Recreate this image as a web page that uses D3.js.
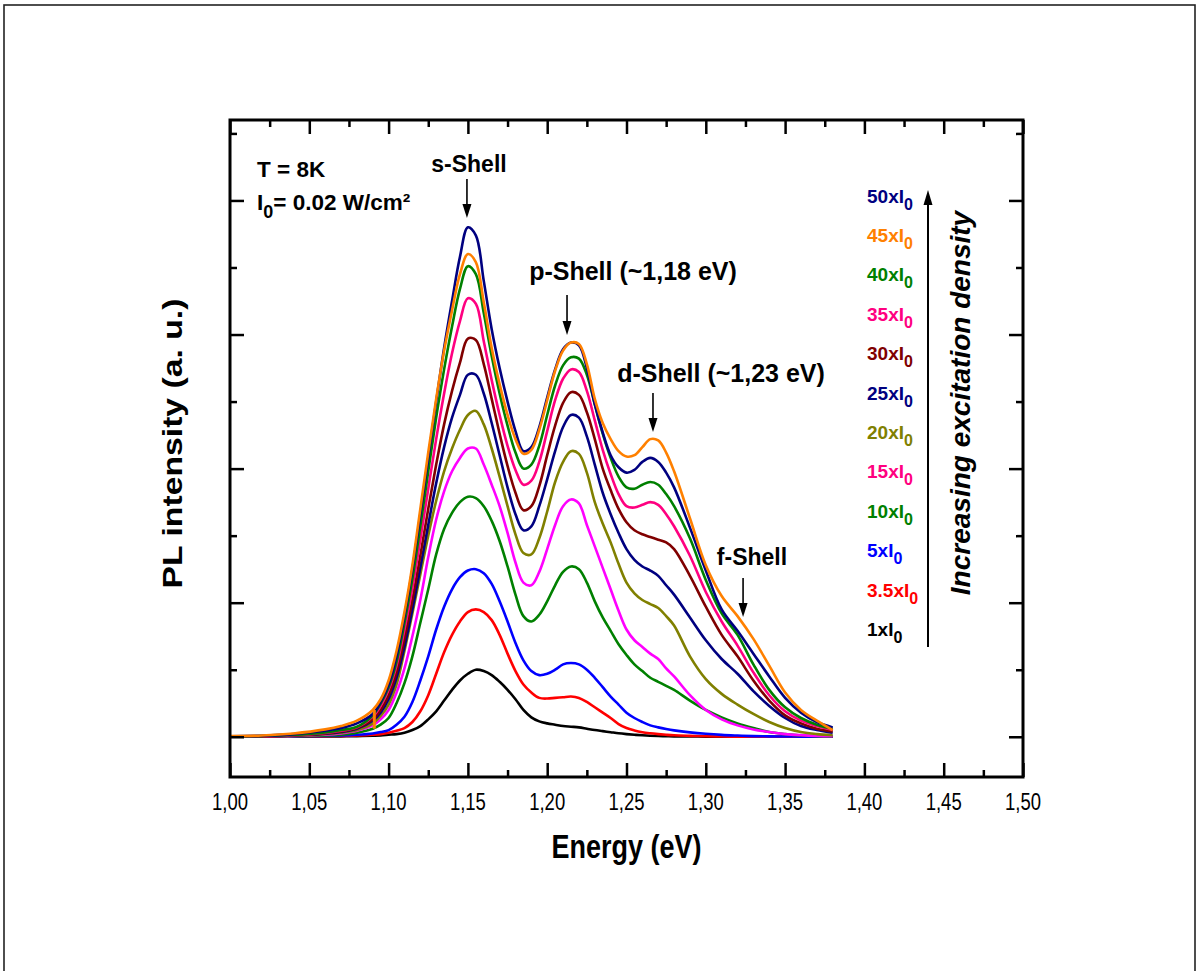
<!DOCTYPE html>
<html><head><meta charset="utf-8">
<script src="https://cdn.jsdelivr.net/npm/d3@7/dist/d3.min.js"></script>
<style>body{margin:0;background:#fff}svg{display:block}</style>
</head><body>
<svg id="c" width="1199" height="971"></svg>
<script>
// ---------- DATA ----------
const energy = [1.00,1.02,1.04,1.06,1.07,1.08,1.09,1.095,1.10,1.105,1.11,1.115,1.12,1.125,1.13,1.135,1.14,1.145,1.15,1.155,1.16,1.165,1.17,1.175,1.18,1.185,1.19,1.195,1.20,1.205,1.21,1.215,1.22,1.225,1.23,1.235,1.24,1.245,1.25,1.255,1.26,1.265,1.27,1.275,1.28,1.29,1.30,1.31,1.32,1.33,1.34,1.35,1.36,1.37,1.38];

const pl_1x   = [0,0,0.001,0.002,0.003,0.005,0.008,0.01,0.015,0.02,0.03,0.05,0.08,0.13,0.19,0.27,0.35,0.42,0.47,0.50,0.49,0.46,0.41,0.35,0.28,0.20,0.145,0.115,0.10,0.09,0.08,0.075,0.07,0.06,0.05,0.042,0.034,0.026,0.02,0.015,0.011,0.008,0.006,0.004,0.003,0.002,0.001,0,0,0,0,0,0,0,0];
const pl_3_5x = [0,0,0.002,0.004,0.006,0.009,0.015,0.02,0.03,0.045,0.065,0.11,0.19,0.31,0.47,0.63,0.76,0.86,0.93,0.95,0.93,0.87,0.76,0.62,0.49,0.39,0.33,0.29,0.285,0.29,0.295,0.30,0.29,0.26,0.22,0.18,0.14,0.095,0.065,0.047,0.034,0.026,0.02,0.015,0.011,0.007,0.004,0.002,0.001,0,0,0,0,0,0];
const pl_5x   = [0,0.001,0.003,0.006,0.009,0.015,0.025,0.035,0.05,0.09,0.15,0.26,0.42,0.60,0.80,0.97,1.10,1.19,1.24,1.25,1.22,1.14,1.01,0.86,0.70,0.57,0.49,0.46,0.47,0.50,0.54,0.55,0.54,0.50,0.44,0.37,0.30,0.24,0.18,0.14,0.11,0.085,0.07,0.058,0.048,0.033,0.022,0.014,0.009,0.005,0.003,0.002,0.001,0,0];
const pl_10x  = [0,0.001,0.004,0.01,0.016,0.03,0.06,0.09,0.14,0.25,0.40,0.60,0.85,1.10,1.36,1.55,1.67,1.75,1.79,1.78,1.72,1.61,1.46,1.27,1.06,0.90,0.86,0.91,1.01,1.13,1.23,1.27,1.25,1.15,1.01,0.89,0.79,0.69,0.61,0.54,0.49,0.44,0.41,0.38,0.35,0.27,0.20,0.145,0.10,0.065,0.035,0.02,0.01,0.005,0.003];
const pl_15x  = [0,0.002,0.006,0.015,0.025,0.045,0.085,0.13,0.20,0.33,0.51,0.75,1.02,1.34,1.62,1.83,1.98,2.08,2.15,2.15,2.03,1.88,1.72,1.52,1.30,1.15,1.13,1.23,1.40,1.58,1.72,1.77,1.74,1.58,1.42,1.26,1.10,0.94,0.80,0.72,0.67,0.62,0.58,0.51,0.45,0.31,0.20,0.13,0.085,0.055,0.035,0.02,0.012,0.007,0.005];
const pl_20x  = [0,0.003,0.008,0.02,0.03,0.05,0.10,0.155,0.24,0.39,0.64,0.92,1.21,1.50,1.76,1.98,2.15,2.29,2.40,2.43,2.33,2.15,1.94,1.72,1.51,1.37,1.36,1.48,1.68,1.90,2.05,2.13,2.11,1.97,1.75,1.59,1.45,1.29,1.15,1.07,1.02,0.99,0.96,0.90,0.83,0.60,0.43,0.32,0.24,0.17,0.11,0.065,0.035,0.02,0.012];
const pl_25x  = [0,0.003,0.009,0.022,0.035,0.06,0.12,0.18,0.28,0.44,0.67,0.95,1.26,1.58,1.89,2.16,2.38,2.55,2.70,2.70,2.56,2.34,2.10,1.86,1.66,1.54,1.57,1.72,1.92,2.13,2.31,2.40,2.38,2.24,2.03,1.82,1.66,1.52,1.40,1.32,1.27,1.24,1.20,1.13,1.06,0.89,0.72,0.58,0.47,0.34,0.23,0.14,0.08,0.05,0.03];
const pl_30x  = [0,0.003,0.01,0.025,0.04,0.065,0.13,0.20,0.31,0.48,0.73,1.02,1.35,1.70,2.03,2.33,2.58,2.79,2.97,2.96,2.78,2.52,2.26,2.02,1.82,1.69,1.72,1.87,2.10,2.32,2.49,2.57,2.55,2.42,2.22,2.00,1.84,1.70,1.60,1.54,1.51,1.49,1.47,1.45,1.40,1.20,0.97,0.76,0.60,0.42,0.27,0.16,0.10,0.06,0.04];
const pl_35x  = [0,0.004,0.011,0.028,0.045,0.07,0.15,0.23,0.35,0.53,0.80,1.11,1.47,1.85,2.22,2.56,2.86,3.10,3.27,3.23,2.95,2.66,2.40,2.17,1.99,1.88,1.91,2.05,2.28,2.51,2.67,2.74,2.72,2.58,2.36,2.14,1.96,1.81,1.72,1.71,1.73,1.75,1.73,1.66,1.57,1.35,1.08,0.86,0.68,0.48,0.31,0.19,0.12,0.08,0.05];
const pl_40x  = [0.002,0.005,0.013,0.032,0.05,0.075,0.16,0.25,0.37,0.56,0.85,1.18,1.57,1.98,2.38,2.74,3.06,3.34,3.51,3.45,3.16,2.84,2.56,2.32,2.12,2.00,2.03,2.17,2.40,2.62,2.77,2.83,2.82,2.70,2.48,2.26,2.08,1.94,1.86,1.85,1.88,1.90,1.88,1.81,1.72,1.48,1.17,0.92,0.76,0.54,0.35,0.22,0.14,0.09,0.06];
const pl_45x  = [0.005,0.01,0.025,0.055,0.08,0.12,0.20,0.28,0.42,0.64,0.93,1.28,1.70,2.12,2.52,2.88,3.18,3.45,3.60,3.54,3.24,2.90,2.63,2.40,2.22,2.11,2.14,2.29,2.51,2.73,2.88,2.94,2.93,2.78,2.52,2.34,2.22,2.13,2.09,2.10,2.16,2.22,2.21,2.12,1.98,1.63,1.28,1.05,0.90,0.73,0.53,0.33,0.20,0.12,0.05];
const pl_50x  = [0.004,0.008,0.02,0.045,0.065,0.10,0.17,0.26,0.39,0.60,0.90,1.25,1.66,2.08,2.50,2.90,3.25,3.58,3.80,3.74,3.40,3.04,2.75,2.50,2.28,2.13,2.16,2.31,2.53,2.74,2.89,2.94,2.92,2.75,2.48,2.27,2.10,2.01,1.97,1.99,2.05,2.08,2.05,1.97,1.86,1.56,1.24,0.95,0.79,0.62,0.45,0.29,0.18,0.11,0.07];

// small measurement glitch visible on the 45x curve
const glitchEnergy = 1.091, glitchLow = 0.06, glitchHigh = 0.20;

const seriesFactor = ["1","3.5","5","10","15","20","25","30","35","40","45","50"];
const seriesValues = [pl_1x,pl_3_5x,pl_5x,pl_10x,pl_15x,pl_20x,pl_25x,pl_30x,pl_35x,pl_40x,pl_45x,pl_50x];
const lineColors   = ["#000000","#ff0000","#0000ff","#008000","#ff00ff","#808000","#000080","#800000","#ff0080","#008000","#ff8000","#000080"];
const legendColors = ["#000000","#ff0000","#0000ff","#008000","#ff0080","#808000","#000080","#800000","#ff0080","#008000","#ff8000","#000080"];

const xMajor = [1.00,1.05,1.10,1.15,1.20,1.25,1.30,1.35,1.40,1.45,1.50];
const xMinor = [1.025,1.075,1.125,1.175,1.225,1.275,1.325,1.375,1.425,1.475];
const yMajor = [0,1,2,3,4];
const yMinor = [0.5,1.5,2.5,3.5,4.5];

const shellLabels = ["s-Shell","p-Shell (~1,18 eV)","d-Shell (~1,23 eV)","f-Shell"];
const shellEnergy = [1.1494,1.2125,1.2667,1.3235];

// ---------- DRAWING ----------
const FONT = "'Liberation Sans', Arial, Helvetica, sans-serif";
const svg = d3.select("#c");
const M = {left:230, right:1023, top:120, bottom:777};
const x = d3.scaleLinear().domain([1.0,1.5]).range([M.left, M.right]);
const y = d3.scaleLinear().domain([-0.3,4.6]).range([M.bottom, M.top]);

svg.append("rect").attr("width",1199).attr("height",971).attr("fill","#fff");
svg.append("rect").attr("x",4).attr("y",5).attr("width",1191).attr("height",1000)
  .attr("fill","none").attr("stroke","#222").attr("stroke-width",1.6);

// curves
const order = [0,1,2,3,4,5,6,7,8,9,11,10];
const line = d3.line().x(d=>x(d[0])).y(d=>y(d[1])).curve(d3.curveCatmullRom.alpha(0.5));
const gCurves = svg.append("g");
order.forEach(i=>{
  const pts = energy.map((e,k)=>[e, seriesValues[i][k]]);
  gCurves.append("path").attr("d", line(pts)).attr("fill","none")
    .attr("stroke", lineColors[i]).attr("stroke-width",2.6).attr("stroke-linejoin","round");
});
gCurves.append("line").attr("x1",x(glitchEnergy)).attr("x2",x(glitchEnergy))
  .attr("y1",y(glitchLow)).attr("y2",y(glitchHigh)).attr("stroke","#ff8000").attr("stroke-width",3);

// axes with inward ticks
function styleAxis(g){ g.select(".domain").remove(); g.selectAll("line").attr("stroke","#000").attr("stroke-width",2.5); g.selectAll("text").remove(); }
svg.append("g").attr("transform",`translate(0,${M.bottom})`).call(d3.axisBottom(x).tickValues(xMajor).tickSize(-14).tickSizeOuter(0)).call(styleAxis);
svg.append("g").attr("transform",`translate(0,${M.bottom})`).call(d3.axisBottom(x).tickValues(xMinor).tickSize(-7).tickSizeOuter(0)).call(styleAxis);
svg.append("g").attr("transform",`translate(0,${M.top})`).call(d3.axisTop(x).tickValues(xMajor).tickSize(-14).tickSizeOuter(0)).call(styleAxis);
svg.append("g").attr("transform",`translate(0,${M.top})`).call(d3.axisTop(x).tickValues(xMinor).tickSize(-7).tickSizeOuter(0)).call(styleAxis);
svg.append("g").attr("transform",`translate(${M.left},0)`).call(d3.axisLeft(y).tickValues(yMajor).tickSize(-14).tickSizeOuter(0)).call(styleAxis);
svg.append("g").attr("transform",`translate(${M.left},0)`).call(d3.axisLeft(y).tickValues(yMinor).tickSize(-7).tickSizeOuter(0)).call(styleAxis);
svg.append("g").attr("transform",`translate(${M.right},0)`).call(d3.axisRight(y).tickValues(yMajor).tickSize(-14).tickSizeOuter(0)).call(styleAxis);
svg.append("g").attr("transform",`translate(${M.right},0)`).call(d3.axisRight(y).tickValues(yMinor).tickSize(-7).tickSizeOuter(0)).call(styleAxis);
svg.append("rect").attr("x",M.left).attr("y",M.top).attr("width",M.right-M.left).attr("height",M.bottom-M.top)
  .attr("fill","none").attr("stroke","#000").attr("stroke-width",3);

// tick labels (comma decimal)
const fmt = v => d3.format(".2f")(v).replace(".",",");
svg.append("g").selectAll("text").data(xMajor).join("text")
  .attr("transform", d=>`translate(${x(d)},810) scale(1,1.27)`)
  .attr("text-anchor","middle").attr("font-family",FONT).attr("font-size",18.5).attr("fill","#000").text(fmt);

// axis titles
svg.append("text").attr("transform",`translate(${(M.left+M.right)/2},858) scale(1,1.22)`)
  .attr("text-anchor","middle").attr("font-family",FONT).attr("font-weight","bold").attr("font-size",27).text("Energy (eV)");
svg.append("text").attr("transform",`translate(182,${(M.top+M.bottom)/2-5}) rotate(-90) scale(1.25,1)`)
  .attr("text-anchor","middle").attr("font-family",FONT).attr("font-weight","bold").attr("font-size",27).text("PL intensity (a. u.)");

// conditions
const tA = svg.append("g").attr("font-family",FONT).attr("font-weight","bold").attr("fill","#000");
tA.append("text").attr("x",257).attr("y",177).attr("font-size",22.5).text("T = 8K");
const t2 = tA.append("text").attr("x",257).attr("y",210).attr("font-size",22.5);
t2.append("tspan").text("I");
t2.append("tspan").attr("font-size",18).attr("dy",8).text("0");
t2.append("tspan").attr("dy",-8).text("= 0.02 W/cm²");

// shell annotations
const labelPos = [[469,172],[633,280],[721,382],[752,565]];
const arrowY = [[179,218],[295,335],[393,432],[578,617]];
shellLabels.forEach((s,i)=>{
  tA.append("text").attr("x",labelPos[i][0]).attr("y",labelPos[i][1]).attr("text-anchor","middle")
    .attr("font-size", i===0||i===3 ? 23 : 25).text(s);
  const ax = x(shellEnergy[i]);
  const [a0,a1] = arrowY[i];
  svg.append("line").attr("x1",ax).attr("x2",ax).attr("y1",a0).attr("y2",a1-12).attr("stroke","#000").attr("stroke-width",1.6);
  svg.append("path").attr("d",`M${ax-4.5},${a1-14}L${ax+4.5},${a1-14}L${ax},${a1}Z`).attr("fill","#000");
});

// legend (excitation densities)
const lg = svg.append("g").attr("font-family",FONT).attr("font-weight","bold");
seriesFactor.forEach((f,i)=>{
  const yy = 636 - i*39.4;
  const t = lg.append("text").attr("x",867).attr("y",yy).attr("font-size",19).attr("fill",legendColors[i]);
  t.append("tspan").text(f+"xI");
  t.append("tspan").attr("font-size",16).attr("dy",7).text("0");
});
svg.append("line").attr("x1",928).attr("x2",928).attr("y1",647).attr("y2",202).attr("stroke","#000").attr("stroke-width",2);
svg.append("path").attr("d","M923.5,205L932.5,205L928,190Z").attr("fill","#000");
svg.append("text").attr("transform","translate(970,403) rotate(-90)").attr("text-anchor","middle")
  .attr("font-family",FONT).attr("font-weight","bold").attr("font-style","italic").attr("font-size",28).text("Increasing excitation density");
</script>
</body></html>
